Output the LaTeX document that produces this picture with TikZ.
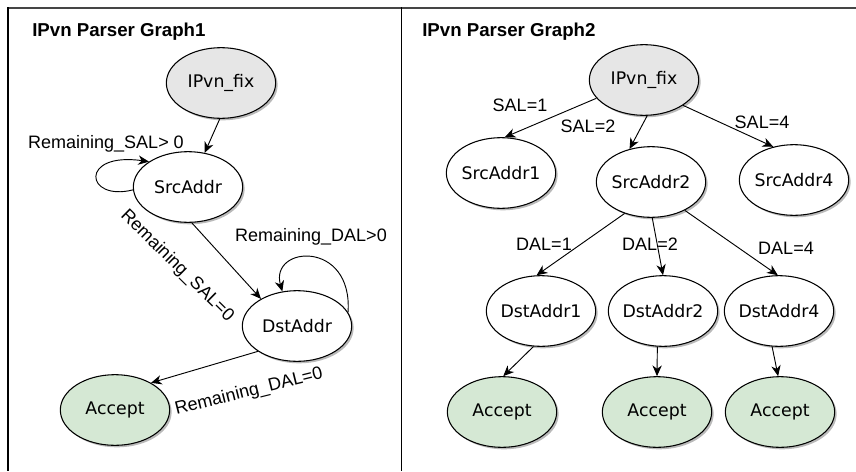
\documentclass[tikz,border=0pt]{standalone}
\usepackage{fontspec}
\setmainfont{Liberation Sans}
\newfontfamily\nodefont{DejaVu Sans}
\usetikzlibrary{arrows.meta,shapes.geometric,shadows}
\definecolor{fixgray}{HTML}{E6E6E6}
\definecolor{acceptgreen}{HTML}{D5E8D4}
\definecolor{framegray}{HTML}{454545}

\begin{document}
\begin{tikzpicture}[x=0.75pt,y=0.75pt,
 state/.style={ellipse,draw,line width=0.8pt,fill=white,minimum width=82pt,minimum height=53pt,
   inner xsep=-2pt,inner ysep=0pt,font=\nodefont\fontsize{13}{15}\selectfont,
   drop shadow={shadow xshift=1.5pt,shadow yshift=-1.5pt,fill=black!45,opacity=0.6}},
 start/.style={state,fill=fixgray},
 final/.style={state,fill=acceptgreen},
 edge/.style={draw,line width=0.7pt,-{Stealth[length=8pt,width=7pt,inset=2.5pt]}},
 lbl/.style={inner sep=0pt,font=\fontsize{13.5}{15}\selectfont},
 title/.style={anchor=west,inner sep=0pt,font=\bfseries\fontsize{14}{16}\selectfont}]
 \useasboundingbox (0,0) rectangle (856,-471);
 % frame
 \draw[framegray,line width=1.5pt] (8,-7.5) -- (856,-7.5);
 \draw[line width=1pt] (8,-7) -- (8,-471);
 \draw[line width=1pt] (401.5,-7) -- (401.5,-471);
 \node[title] (t1) at (32,-32) {IPvn Parser Graph1};
 \node[title] (t2) at (422,-32) {IPvn Parser Graph2};
 % graph 1
 \node[start] (fix1) at (221,-83) {IPvn\_fix};
 \node[state] (src1) at (188,-187) {SrcAddr};
 \node[state] (dst1) at (297,-326) {DstAddr};
 \node[final] (acc1) at (115,-410) {Accept};
 \draw[edge] (fix1.-92) -- (src1.64);
 \draw[edge] (src1.183) .. controls +(-48,-12) and +(-70,10) .. (src1.147);
 \draw[edge] (src1.-84) -- (dst1.143);
 \draw[edge] (dst1.15) .. controls +(5,73) and +(-13,46) .. (dst1.113);
 \draw[edge] (dst1.213) -- (acc1.37);
 \node[lbl] (lsalp) at (106,-144) {Remaining\_SAL> 0};
 \node[lbl,rotate=-44.5] (lsalz) at (177,-266) {Remaining\_SAL=0};
 \node[lbl] (ldalp) at (311,-237) {Remaining\_DAL>0};
 \node[lbl,rotate=14] (ldalz) at (249,-392) {Remaining\_DAL=0};
 % graph 2
 \node[start] (fix2) at (644,-80) {IPvn\_fix};
 \foreach \N/\X/\Y in {1/501/173,2/651/182,4/794/180}
  {\node[state] (sa\N) at (\X,-\Y) {SrcAddr\N};}
 \foreach \N/\X in {1/541,2/663,4/779}
  {\node[state] (da\N) at (\X,-311) {DstAddr\N};}
 \foreach \N/\X in {1/502,2/657,4/780}
  {\node[final] (ac\N) at (\X,-412) {Accept};}
 \draw[edge] (fix2.201) -- (sa1.84);
 \draw[edge] (fix2.-85) -- (sa2.123);
 \draw[edge] (fix2.-33) -- (sa4.122);
 \draw[edge] (sa2.230) -- (da1.97);
 \draw[edge] (sa2.-88) -- (da2.90);
 \draw[edge] (sa2.-40) -- (da4.92);
 \draw[edge] (da1.-102) -- (ac1.88);
 \draw[edge] (da2.-99) -- (ac2.90);
 \draw[edge] (da4.-101) -- (ac4.93);
 \node[lbl] (lsal1) at (520,-105) {SAL=1};
 \node[lbl] (lsal2) at (588,-126) {SAL=2};
 \node[lbl] (lsal4) at (762,-122) {SAL=4};
 \node[lbl] (ldal1) at (544,-244) {DAL=1};
 \node[lbl] (ldal2) at (650,-244) {DAL=2};
 \node[lbl] (ldal4) at (786,-248) {DAL=4};
\end{tikzpicture}
\end{document}
